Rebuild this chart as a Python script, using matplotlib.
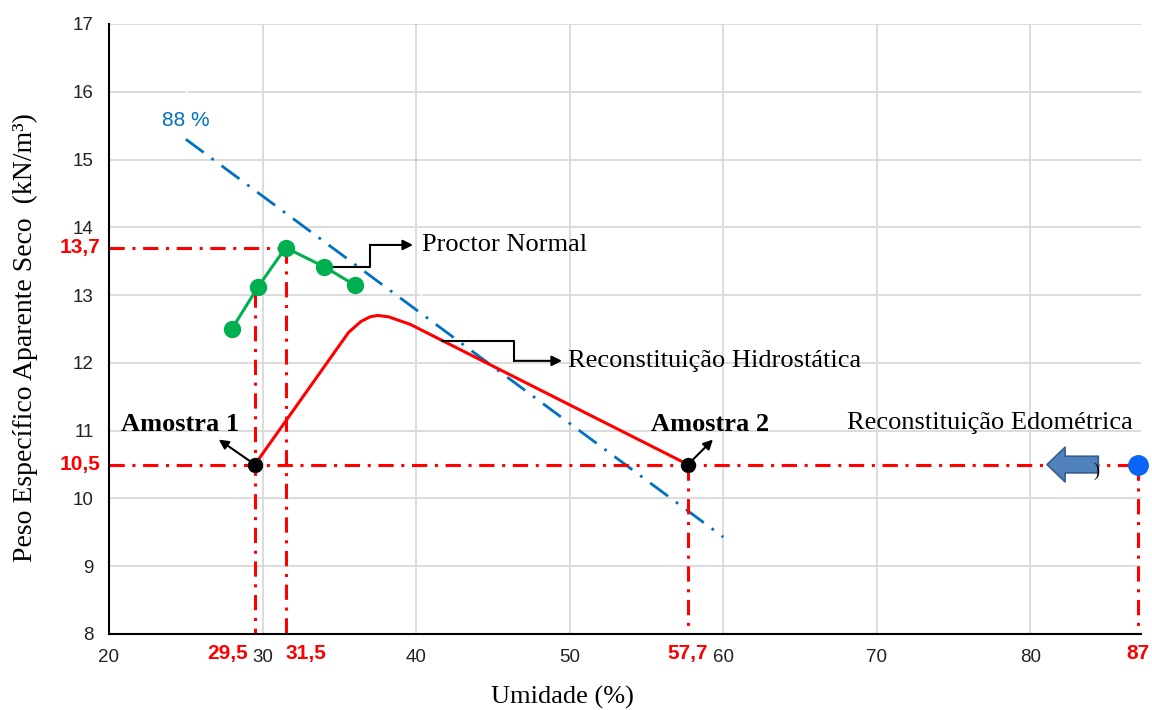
import numpy as np
import matplotlib.pyplot as plt
from matplotlib.patches import FancyArrowPatch

# Proctor Normal compaction curve
proctor_w = [28.0, 29.7, 31.5, 34.0, 36.0]
proctor_gd = [12.5, 13.12, 13.7, 13.42, 13.15]

# hydrostatic reconstitution path (Amostra 1 -> Amostra 2)
hidro_w = [29.5, 35.6, 36.4, 37.0, 37.5, 38.2, 39.6, 57.7]
hidro_gd = [10.5, 12.45, 12.61, 12.68, 12.70, 12.68, 12.57, 10.5]

# 88 % saturation line and a second one left in white
sat88_w = [25.0, 60.0]
sat88_gd = [15.3, 9.43]
sat_w = [25.0, 44.0]
sat_gd = [16.0, 12.3]

amostras_w = [29.5, 57.7]
amostras_gd = [10.5, 10.5]
amostras_nome = ["Amostra 1", "Amostra 2"]
edometrica_w = 87.0
edometrica_gd = 10.5
w_otima = 31.5
gd_max = 13.7

x_ticks = [20, 30, 40, 50, 60, 70, 80]
y_ticks = list(range(8, 18))

SERIF = "Liberation Serif"
SANS = "Liberation Sans"
RED = "#FF0000"
RED_LS = (0, (5, 2.5, 1, 2.5))
BLUE_LS = (0, (8, 3.5, 1, 3.5))


def virgula(v):
    s = f"{v:.1f}".replace(".", ",")
    return s[:-2] if s.endswith(",0") else s


fig = plt.figure(figsize=(11.52, 7.10), dpi=100)
ax = fig.add_axes([109 / 1152, 76 / 710, 1032 / 1152, 610 / 710])
ax.set_xlim(20, 87.2)
ax.set_ylim(8, 17)
ax.set_xticks(x_ticks)
ax.set_yticks(y_ticks)
ax.grid(True, color="#d9d9d9", lw=1.3)
ax.set_axisbelow(True)
for s in ("top", "right"):
    ax.spines[s].set_visible(False)
for s in ("left", "bottom"):
    ax.spines[s].set_linewidth(1.5)
ax.tick_params(axis="both", length=0, labelsize=13.5, colors="#222222")
ax.tick_params(axis="x", pad=11)
ax.tick_params(axis="y", pad=11)
for lab in ax.get_xticklabels() + ax.get_yticklabels():
    lab.set_fontfamily(SANS)

# saturation lines
ax.plot(sat_w, sat_gd, color="white", lw=1.6, ls=BLUE_LS, zorder=1.5)
ax.plot(sat88_w, sat88_gd, color="#0070C0", lw=2, ls=BLUE_LS, zorder=2)
ax.text(sat88_w[0], 15.58, "88 %", color="#0070C0", fontsize=15,
        family=SANS, ha="center", va="center")

# red reference lines
ax.plot([20, w_otima], [gd_max, gd_max], color=RED, lw=2.2, ls=RED_LS, zorder=2)
ax.plot([w_otima, w_otima], [gd_max, 8], color=RED, lw=2.2, ls=RED_LS, zorder=2)
ax.plot([20, edometrica_w], [amostras_gd[0]] * 2, color=RED, lw=2.2, ls=RED_LS,
        zorder=2, clip_on=False)
topo = np.interp(amostras_w[0], proctor_w, proctor_gd)
ax.plot([amostras_w[0]] * 2, [topo, 8], color=RED, lw=2.2, ls=RED_LS, zorder=2)
ax.plot([amostras_w[1]] * 2, [amostras_gd[1], 8], color=RED, lw=2.2, ls=RED_LS, zorder=2)
ax.plot([edometrica_w] * 2, [edometrica_gd, 8], color=RED, lw=2.2, ls=RED_LS,
        zorder=2, clip_on=False)

# curves
ax.plot(proctor_w, proctor_gd, color="#00B050", lw=2.2, marker="o", ms=11.5, zorder=4)
ax.plot(hidro_w, hidro_gd, color=RED, lw=2.2, zorder=3)
ax.plot(amostras_w, amostras_gd, ls="none", marker="o", ms=10, color="black", zorder=5)
ax.plot([edometrica_w], [edometrica_gd], ls="none", marker="o", ms=14,
        color="#0A64F5", zorder=5, clip_on=False)

# red value labels on the axes
xt = ax.get_xaxis_transform()
yt = ax.get_yaxis_transform()
for v in (gd_max, amostras_gd[0]):
    ax.annotate(virgula(v), xy=(0, v), xycoords=yt, xytext=(-6, 0),
                textcoords="offset points", ha="right", va="center",
                color=RED, fontsize=15, fontweight="bold", family=SANS)
for v, dx, ha in ((amostras_w[0], -5, "right"), (w_otima, 0, "left"),
                  (amostras_w[1], 0, "center"), (edometrica_w, 0, "center")):
    ax.annotate(virgula(v), xy=(v, 0), xycoords=xt, xytext=(dx, -7),
                textcoords="offset points", ha=ha, va="top",
                color=RED, fontsize=15, fontweight="bold", family=SANS)

# sample labels with small arrows
for (w, gd, nome, txt, tip) in ((amostras_w[0], amostras_gd[0], amostras_nome[0], (-54, 29), (-26, 18)),
                                (amostras_w[1], amostras_gd[1], amostras_nome[1], (16, 29), (18, 18))):
    ax.annotate(nome, xy=(w, gd), xytext=txt, textcoords="offset points",
                ha="center", va="center", fontsize=19, fontweight="bold", family=SERIF)
    ax.annotate("", xy=(w, gd), xytext=tip, textcoords="offset points",
                arrowprops=dict(arrowstyle="<|-", color="black", lw=1.5,
                                mutation_scale=14, shrinkA=0, shrinkB=4))

# elbow callouts
arrow = dict(arrowstyle="-|>", color="black", lw=1.5, mutation_scale=15, shrinkA=0, shrinkB=0)
y_p = 13.74
ax.plot([proctor_w[3], 37.0, 37.0], [proctor_gd[3], proctor_gd[3], y_p], color="black", lw=1.5, zorder=3)
ax.annotate("", xy=(39.8, y_p), xytext=(37.0, y_p), arrowprops=arrow)
ax.text(40.4, y_p, "Proctor Normal", fontsize=19, family=SERIF, va="center")

y_h0 = np.interp(41.7, hidro_w, hidro_gd)
y_h = 12.03
ax.plot([41.7, 46.4, 46.4], [y_h0, y_h0, y_h], color="black", lw=1.5, zorder=3)
ax.annotate("", xy=(49.5, y_h), xytext=(46.4, y_h), arrowprops=arrow)
ax.text(49.9, y_h, "Reconstituição Hidrostática", fontsize=19, family=SERIF, va="center")

ax.text(86.68, 11.11, "Reconstituição Edométrica", fontsize=19, family=SERIF,
        ha="right", va="center")
seta = FancyArrowPatch((84.6, 10.5), (80.9, 10.5),
                       arrowstyle="simple,head_length=13,head_width=25,tail_width=12",
                       mutation_scale=1, fc="#4F81BD", ec="#385D8A", lw=1.2, zorder=6)
ax.add_patch(seta)
ax.text(84.3, 10.4, ")", fontsize=13, family=SERIF, ha="center", va="center", zorder=7)

fig.text(25 / 1152, (710 - 338) / 710, "Peso Específico Aparente Seco  (kN/m³)",
         rotation=90, fontsize=20, family=SERIF, ha="center", va="center")
fig.text(562 / 1152, (710 - 697) / 710, "Umidade (%)", fontsize=19, family=SERIF,
         ha="center", va="center")

fig.savefig("out.png", dpi=100)
